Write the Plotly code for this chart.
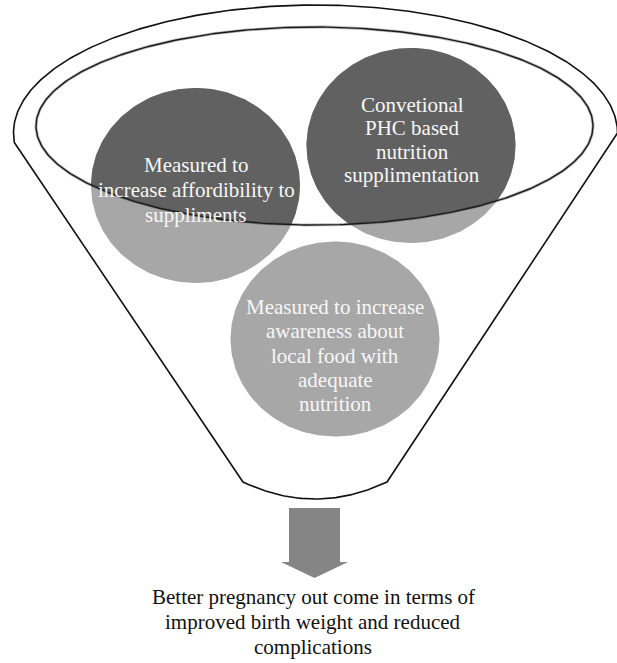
import numpy as np
import plotly.graph_objects as go

# ---- content ----
circle_labels = [
    ["Measured to", "increase affordibility to", "suppliments"],
    ["Convetional", "PHC based", "nutrition", "supplimentation"],
    ["Measured to increase", "awareness about", "local food with", "adequate", "nutrition"],
]
outcome_label = ["Better pregnancy out come in terms of",
                 "improved birth weight and reduced",
                 "complications"]

# ---- geometry (pixel space) ----
W, H = 617, 663
circle_centers = [(195.5, 185.5), (411, 145.5), (335, 339)]
circle_radii = (104.5, 97.5)
# first text line centre and line spacing for each circle
text_first = [(196, 165), (412, 105), (335, 307)]
text_step = [25, 23.3, 24.3]
outcome_first = (313, 597)
outcome_step = 25
inner_ell = dict(cx=314.5, cy=126, a=278.5, b=99)
outer_ell = dict(cx=315.5, cy=133, a=302, b=128)

LIGHT = "#a7a7a7"
DARK = "#616161"
FONT = "Liberation Serif"


def ellipse_pts(cx, cy, a, b, n=400, t0=0, t1=2 * np.pi):
    t = np.linspace(t0, t1, n)
    return np.column_stack([cx + a * np.cos(t), cy + b * np.sin(t)])


def area(p):
    x, y = p[:, 0], p[:, 1]
    return 0.5 * np.sum(x * np.roll(y, -1) - np.roll(x, -1) * y)


def clip(subject, clipper):
    if area(clipper) < 0:
        clipper = clipper[::-1]
    out = [tuple(p) for p in subject]
    n = len(clipper)
    for i in range(n):
        a = clipper[i]
        b = clipper[(i + 1) % n]
        inp = out
        out = []
        if not inp:
            break

        def inside(p):
            return (b[0] - a[0]) * (p[1] - a[1]) - (b[1] - a[1]) * (p[0] - a[0]) >= 0

        def inter(p, q):
            x1, y1 = p
            x2, y2 = q
            x3, y3 = a
            x4, y4 = b
            den = (x1 - x2) * (y3 - y4) - (y1 - y2) * (x3 - x4)
            t = ((x1 - x3) * (y3 - y4) - (y1 - y3) * (x3 - x4)) / den
            return (x1 + t * (x2 - x1), y1 + t * (y2 - y1))

        s = inp[-1]
        for e in inp:
            if inside(e):
                if not inside(s):
                    out.append(inter(s, e))
                out.append(e)
            elif inside(s):
                out.append(inter(s, e))
            s = e
    return np.array(out)


fig = go.Figure()

# outer funnel outline
lc = (14, 142)
rc = (617, 133)
bl = (243, 482)
br = (387, 482)
bottom_y = 499
oe = outer_ell
t_left = np.arctan2((lc[1] - oe["cy"]) / oe["b"], (lc[0] - oe["cx"]) / oe["a"])
t_right = np.arctan2((rc[1] - oe["cy"]) / oe["b"], (rc[0] - oe["cx"]) / oe["a"])
if t_left < 0:
    t_left += 2 * np.pi
arc = ellipse_pts(oe["cx"], oe["cy"], oe["a"], oe["b"], 300, t_left, 2 * np.pi + t_right)
xs_b = np.linspace(bl[0], br[0], 60)
mid = (bl[0] + br[0]) / 2
half = (br[0] - bl[0]) / 2
ys_b = bl[1] + (bottom_y - bl[1]) * (1 - ((xs_b - mid) / half) ** 2)
fx = list(arc[:, 0]) + [br[0]] + list(xs_b[::-1]) + [lc[0]]
fy = list(arc[:, 1]) + [br[1]] + list(ys_b[::-1]) + [lc[1]]
fig.add_trace(go.Scatter(x=fx, y=fy, mode="lines", line=dict(color="#111111", width=1.6),
                         hoverinfo="skip", showlegend=False))

ell = ellipse_pts(inner_ell["cx"], inner_ell["cy"], inner_ell["a"], inner_ell["b"], 400)

# circles (light) with their darker part inside the funnel mouth
for (cx, cy) in circle_centers:
    c = ellipse_pts(cx, cy, circle_radii[0], circle_radii[1], 240)
    fig.add_trace(go.Scatter(x=c[:, 0], y=c[:, 1], mode="lines", fill="toself",
                             fillcolor=LIGHT, line=dict(width=0), hoverinfo="skip",
                             showlegend=False))
    inter = clip(c, ell)
    if len(inter) > 2:
        fig.add_trace(go.Scatter(x=list(inter[:, 0]) + [inter[0, 0]],
                                 y=list(inter[:, 1]) + [inter[0, 1]], mode="lines",
                                 fill="toself", fillcolor=DARK, line=dict(width=0),
                                 hoverinfo="skip", showlegend=False))

# inner ellipse outline (soft halo + line)
fig.add_trace(go.Scatter(x=ell[:, 0], y=ell[:, 1], mode="lines",
                         line=dict(color="rgba(60,60,60,0.35)", width=3), hoverinfo="skip",
                         showlegend=False))
fig.add_trace(go.Scatter(x=ell[:, 0], y=ell[:, 1], mode="lines",
                         line=dict(color="#1a1a1a", width=1.4), hoverinfo="skip",
                         showlegend=False))

# arrow
ax0, ax1 = 289, 340
ay0, ay1 = 508, 562
hx0, hx1 = 281, 348
tip = (314.5, 578)
fig.add_trace(go.Scatter(x=[ax0, ax1, ax1, hx1, tip[0], hx0, ax0, ax0],
                         y=[ay0, ay0, ay1, ay1, tip[1], ay1, ay1, ay0],
                         mode="lines", fill="toself", fillcolor="#858585",
                         line=dict(width=0), hoverinfo="skip", showlegend=False))

annotations = []
for lines, (tx, ty), step in zip(circle_labels, text_first, text_step):
    for i, ln in enumerate(lines):
        annotations.append(dict(x=tx, y=ty + i * step, xref="x", yref="y", text=ln,
                                showarrow=False, xanchor="center", yanchor="middle",
                                font=dict(family=FONT, size=21, color="#f7f7f7")))
for i, ln in enumerate(outcome_label):
    annotations.append(dict(x=outcome_first[0], y=outcome_first[1] + i * outcome_step,
                            xref="x", yref="y", text=ln, showarrow=False,
                            xanchor="center", yanchor="middle",
                            font=dict(family=FONT, size=21, color="#111111")))

fig.update_layout(
    width=W, height=H, margin=dict(l=0, r=0, t=0, b=0),
    paper_bgcolor="white", plot_bgcolor="white",
    xaxis=dict(range=[0, W], visible=False, fixedrange=True),
    yaxis=dict(range=[H, 0], visible=False, fixedrange=True),
    annotations=annotations, showlegend=False,
)

fig.write_html("out.html", config={"displayModeBar": False},
               post_script="document.body.style.margin='0';document.body.style.padding='0';")
